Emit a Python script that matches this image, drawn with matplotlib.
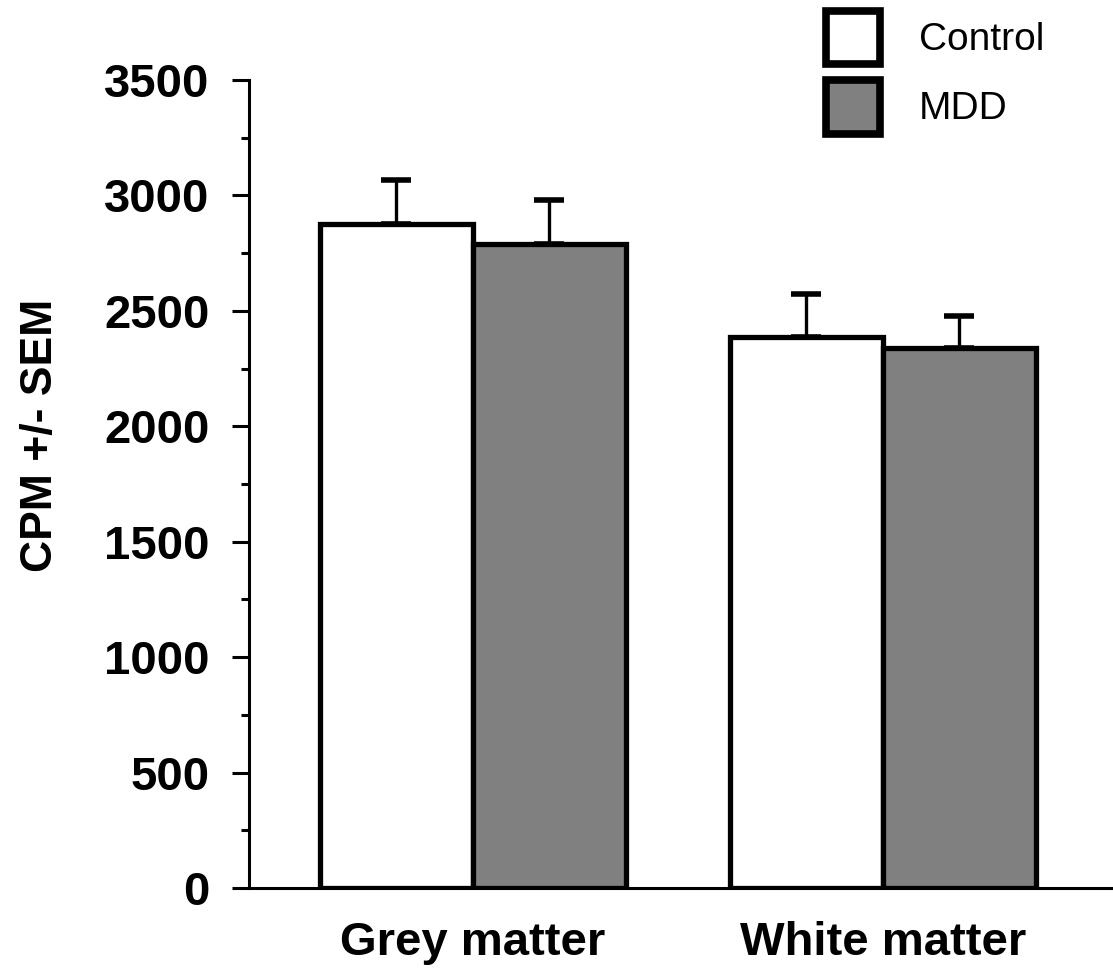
import matplotlib.pyplot as plt
import numpy as np

# data
regions = ['Grey matter', 'White matter']
groups = ['Control', 'MDD']
means = {'Control': [2876, 2386], 'MDD': [2789, 2339]}
sems = {'Control': [190, 187], 'MDD': [190, 138]}
colors = {'Control': 'white', 'MDD': '#808080'}

plt.rcParams['font.family'] = ['Liberation Sans', 'DejaVu Sans']

fig = plt.figure(figsize=(11.13, 9.72), dpi=100)
ax = fig.add_axes([0.2237, 0.0864, 0.7763, 0.8313])

x = np.arange(len(regions))
width = 0.373
for i, g in enumerate(groups):
    pos = x + (i - 0.5) * width
    ax.bar(pos, means[g], width, color=colors[g], edgecolor='black',
           linewidth=3.8, label=g, zorder=2)
    ax.errorbar(pos, means[g], yerr=[np.zeros(len(regions)), sems[g]],
                fmt='none', ecolor='black', elinewidth=2.4, capsize=11,
                capthick=4, zorder=1)

ax.set_ylim(0, 3500)
ax.set_xlim(-0.546, 1.561)
ax.set_yticks(np.arange(0, 3501, 500))
ax.set_yticks(np.arange(0, 3501, 250), minor=True)
ax.tick_params(axis='y', which='major', length=12.5, width=2.2, labelsize=34,
               pad=16)
ax.tick_params(axis='y', which='minor', length=6, width=2.2)
ax.set_xticks(x)
ax.set_xticklabels(regions, fontsize=34, fontweight='bold')
ax.tick_params(axis='x', length=0, pad=24)
for lab in ax.get_yticklabels():
    lab.set_fontweight('bold')

ax.spines['top'].set_visible(False)
ax.spines['right'].set_visible(False)
ax.spines['left'].set_linewidth(2.2)
ax.spines['bottom'].set_linewidth(2.2)

ax.set_ylabel('CPM +/- SEM', fontsize=32, fontweight='bold')
ax.yaxis.set_label_coords(-0.217, 0.56)

leg = fig.legend(loc='upper right', bbox_to_anchor=(0.97, 1.025),
                 frameon=False, fontsize=28, handlelength=1.4,
                 handleheight=1.75, handletextpad=1.0, labelspacing=0.4)
for h in leg.legend_handles:
    h.set_linewidth(5.5)

fig.savefig('out.png', dpi=100)
